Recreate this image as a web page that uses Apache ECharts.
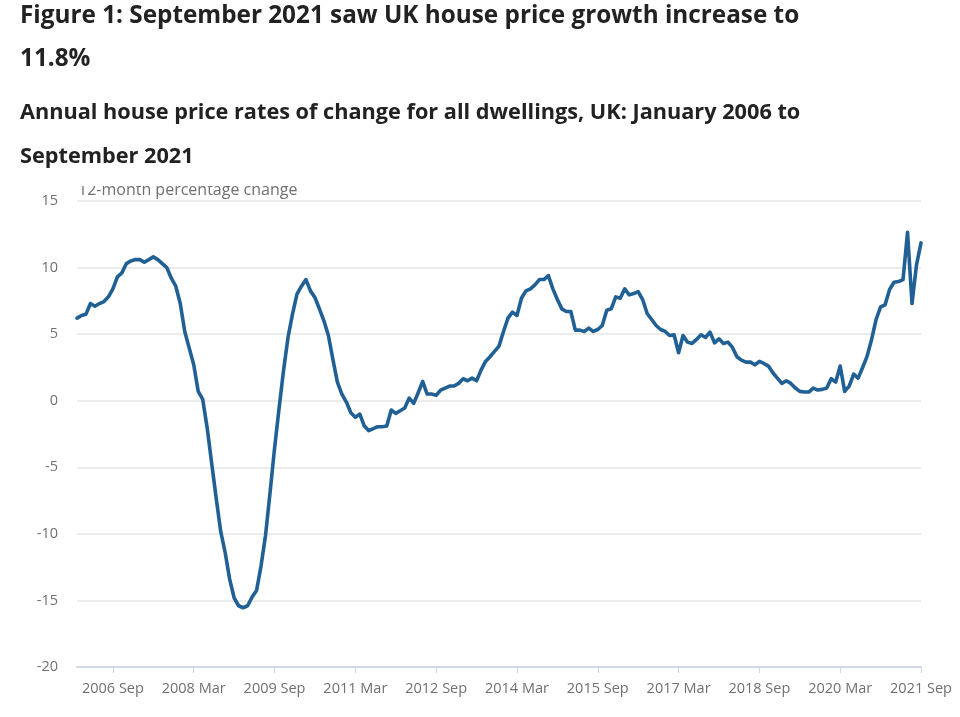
<!DOCTYPE html>
<html>
<head>
<meta charset="utf-8">
<script src="https://cdn.jsdelivr.net/npm/echarts@6/dist/echarts.min.js"></script>
<style>
  html, body { margin: 0; padding: 0; background: #fff; }
  #chart { width: 960px; height: 717px; }
</style>
</head>
<body>
<div id="chart"></div>
<script>
// ---- Data ----
const titleLines = ["Figure 1: September 2021 saw UK house price growth increase to", "11.8%"];
const subtitleLines = ["Annual house price rates of change for all dwellings, UK: January 2006 to", "September 2021"];
const yAxisName = "12-month percentage change";

const years = [2006, 2007, 2008, 2009, 2010, 2011, 2012, 2013, 2014, 2015, 2016, 2017, 2018, 2019, 2020, 2021];
const monthNames = ["Jan", "Feb", "Mar", "Apr", "May", "Jun", "Jul", "Aug", "Sep", "Oct", "Nov", "Dec"];
const lastMonthCount2021 = 9; // January to September 2021

// Annual % change, UK, all dwellings, Jan 2006 .. Sep 2021
const values2006 = [6.2, 6.4, 6.5, 7.3, 7.1, 7.3, 7.45, 7.8, 8.4, 9.3, 9.6, 10.3];
const values2007 = [10.5, 10.6, 10.6, 10.4, 10.6, 10.8, 10.6, 10.3, 10.0, 9.2, 8.6, 7.3];
const values2008 = [5.2, 3.95, 2.7, 0.7, 0.1, -2.05, -4.7, -7.3, -9.8, -11.4, -13.4, -14.8];
const values2009 = [-15.4, -15.55, -15.4, -14.75, -14.25, -12.4, -10.1, -6.9, -3.6, -0.6, 2.25, 4.75];
const values2010 = [6.5, 8.0, 8.6, 9.1, 8.25, 7.75, 6.9, 6.0, 4.9, 3.1, 1.4, 0.5];
const values2011 = [-0.1, -0.9, -1.25, -1.0, -1.9, -2.25, -2.1, -1.95, -1.95, -1.9, -0.7, -0.95];
const values2012 = [-0.75, -0.55, 0.2, -0.2, 0.6, 1.45, 0.5, 0.5, 0.4, 0.8, 0.95, 1.1];
const values2013 = [1.1, 1.3, 1.65, 1.5, 1.7, 1.5, 2.3, 2.95, 3.3, 3.7, 4.1, 5.2];
const values2014 = [6.2, 6.65, 6.4, 7.7, 8.25, 8.4, 8.7, 9.1, 9.1, 9.4, 8.4, 7.6];
const values2015 = [6.9, 6.7, 6.7, 5.3, 5.3, 5.2, 5.45, 5.2, 5.35, 5.65, 6.8, 6.9];
const values2016 = [7.8, 7.7, 8.4, 7.95, 8.05, 8.2, 7.6, 6.55, 6.1, 5.65, 5.35, 5.2];
const values2017 = [4.9, 4.95, 3.6, 4.9, 4.4, 4.3, 4.6, 4.95, 4.75, 5.15, 4.35, 4.65];
const values2018 = [4.3, 4.4, 4.0, 3.3, 3.05, 2.9, 2.9, 2.7, 2.95, 2.8, 2.6, 2.1];
const values2019 = [1.7, 1.3, 1.5, 1.3, 0.95, 0.7, 0.65, 0.65, 0.95, 0.8, 0.85, 0.95];
const values2020 = [1.65, 1.4, 2.6, 0.7, 1.1, 2.0, 1.7, 2.5, 3.35, 4.6, 6.1, 7.05];
const values2021 = [7.2, 8.35, 8.9, 8.95, 9.1, 12.65, 7.3, 10.2, 11.85];

const yTicks = { min: -20, max: 15, step: 5 };

// ---- Build ----
const categories = [];
years.forEach(function (y) {
  const n = (y === 2021) ? lastMonthCount2021 : 12;
  for (let m = 0; m < n; m++) categories.push(y + " " + monthNames[m]);
});
const values = [].concat(values2006, values2007, values2008, values2009, values2010, values2011,
  values2012, values2013, values2014, values2015, values2016, values2017, values2018, values2019,
  values2020, values2021);

const FONT = "'Open Sans', 'Noto Sans', sans-serif";
const labelShown = function (index) { return (index - 8) % 18 === 0; };

const chart = echarts.init(document.getElementById('chart'), null, { renderer: 'canvas' });
chart.setOption({
  animation: false,
  backgroundColor: '#ffffff',
  title: [
    {
      text: titleLines.join("\n"),
      left: 20, top: -5, padding: 0,
      textStyle: { fontFamily: FONT, fontSize: 24.3, fontWeight: 'bold', color: '#222222', lineHeight: 43 }
    },
    {
      text: subtitleLines.join("\n"),
      left: 20, top: 91, padding: 0,
      textStyle: { fontFamily: FONT, fontSize: 21.7, fontWeight: 'bold', color: '#222222', lineHeight: 44 }
    }
  ],
  graphic: [
    {
      type: 'text', left: 78, top: 182, z: 10,
      style: { text: yAxisName, fontFamily: FONT, fontSize: 16, fill: '#707070' }
    },
    {
      type: 'rect', z: 11,
      shape: { x: 60, y: 170, width: 420, height: 16 },
      style: { fill: '#ffffff' }
    }
  ],
  grid: { left: 77, right: 39, top: 201, bottom: 50, containLabel: false },
  xAxis: {
    type: 'category',
    data: categories,
    boundaryGap: false,
    axisLine: { show: true, onZero: false, lineStyle: { color: '#d0d8e8', width: 2 } },
    axisTick: { show: true, interval: labelShown, length: 6, lineStyle: { color: '#d0d8e8', width: 1 } },
    axisLabel: {
      interval: labelShown, margin: 14, color: '#707070', fontSize: 14.5, fontFamily: FONT,
      hideOverlap: false
    },
    splitLine: { show: false }
  },
  yAxis: {
    type: 'value',
    min: yTicks.min, max: yTicks.max, interval: yTicks.step,
    axisLine: { show: false },
    axisTick: { show: false },
    axisLabel: { color: '#707070', fontSize: 14.5, fontFamily: FONT, margin: 19 },
    splitLine: { lineStyle: { color: '#e6e6e6', width: 1.5 } }
  },
  series: [{
    type: 'line',
    data: values,
    showSymbol: false,
    symbol: 'none',
    lineStyle: { color: '#206095', width: 3.6, join: 'round', cap: 'round' },
    itemStyle: { color: '#206095' }
  }]
});
</script>
</body>
</html>
